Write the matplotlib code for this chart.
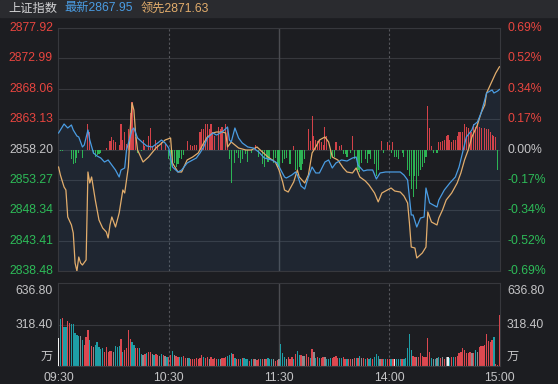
import matplotlib
matplotlib.use('Agg')
import matplotlib.pyplot as plt
from matplotlib.patches import Rectangle

plt.rcParams['font.family'] = ['Liberation Sans', 'Noto Sans CJK SC', 'DejaVu Sans']

# ---------------- data ----------------
PREV_CLOSE = 2858.20
LAST = 2867.95
LEAD_LAST = 2871.63
price_ticks = [2877.92, 2872.99, 2868.06, 2863.13, 2858.20, 2853.27, 2848.34, 2843.41, 2838.48]
pct_ticks = ['0.69%', '0.52%', '0.34%', '0.17%', '0.00%', '-0.17%', '-0.34%', '-0.52%', '-0.69%']
time_labels = ['09:30', '10:30', '11:30', '14:00', '15:00']
time_label_min = [0, 60, 120, 180, 240]
vol_ticks = [636.80, 318.40]

blue_min = [0, 2, 3, 5, 7, 8, 10, 11, 13, 14, 16, 17, 19, 21, 23, 25, 27, 29, 31, 33, 34, 36, 37, 40, 41,
            43, 46, 48, 51, 54, 56, 58, 60, 62, 65, 67, 70, 73, 75, 77, 79, 81, 84, 86, 89, 92, 93, 94, 96,
            98, 100, 103, 106, 109, 112, 116, 119, 121, 123, 124, 127, 129, 130, 132, 134, 136, 138, 140,
            142, 145, 147, 149, 151, 154, 157, 160, 162, 163, 166, 168, 171, 173, 175, 178, 180, 183, 186,
            188, 190, 192, 193, 195, 197, 199, 200, 202, 204, 206, 207, 210, 213, 216, 218, 220, 222, 225,
            226, 228, 230, 232, 233, 236, 237, 239, 240]
blue_val = [2860.88, 2861.85, 2862.34, 2861.69, 2862.18, 2861.37, 2860.39, 2860.23, 2858.61, 2858.93,
            2861.37, 2859.74, 2857.63, 2857.14, 2856.82, 2856.17, 2856.50, 2855.68, 2854.87, 2853.74,
            2854.87, 2855.20, 2858.12, 2861.37, 2861.69, 2860.07, 2859.26, 2858.77, 2858.61, 2859.26,
            2859.74, 2859.26, 2858.44, 2855.36, 2854.55, 2854.87, 2856.01, 2856.50, 2856.82, 2857.63,
            2858.61, 2860.07, 2860.88, 2860.55, 2861.04, 2861.85, 2859.74, 2859.42, 2861.69, 2860.07,
            2859.26, 2858.61, 2858.44, 2857.79, 2856.82, 2856.50, 2856.01, 2854.87, 2853.74, 2853.57,
            2854.06, 2854.55, 2854.06, 2852.28, 2851.79, 2853.74, 2855.36, 2854.39, 2854.39, 2856.17,
            2856.50, 2855.20, 2856.01, 2856.50, 2856.33, 2856.82, 2856.98, 2855.68, 2854.71, 2854.87,
            2854.87, 2853.41, 2854.39, 2854.55, 2854.55, 2854.55, 2854.55, 2854.06, 2853.25, 2847.57,
            2847.57, 2845.62, 2847.08, 2847.25, 2851.95, 2849.52, 2849.19, 2848.87, 2850.00, 2851.63,
            2852.76, 2853.74, 2855.36, 2857.79, 2860.23, 2861.37, 2862.18, 2862.66, 2864.12, 2866.23,
            2867.37, 2867.86, 2867.37, 2867.69, 2867.95]

lead_min = [0, 1, 3, 4, 5, 7, 8, 9, 10, 11, 12, 13, 15, 16, 17, 18, 20, 22, 24, 26, 27, 28, 29, 31, 33,
            35, 36, 38, 39, 40, 41, 42, 43, 46, 49, 53, 55, 58, 61, 62, 65, 67, 70, 73, 76, 79, 81, 84,
            86, 89, 91, 92, 94, 98, 102, 105, 108, 111, 114, 118, 120, 122, 123, 125, 128, 130, 131, 134,
            136, 138, 140, 142, 145, 147, 149, 152, 155, 157, 160, 162, 164, 167, 169, 172, 174, 176, 179,
            181, 183, 186, 188, 190, 191, 192, 194, 195, 198, 200, 201, 203, 206, 207, 209, 211, 214, 217,
            219, 221, 223, 225, 228, 230, 232, 233, 236, 237, 238, 240]
lead_val = [2855.36, 2854.06, 2852.11, 2851.63, 2847.25, 2845.95, 2844.65, 2839.78, 2838.48, 2840.75,
            2839.78, 2839.45, 2840.27, 2854.55, 2852.76, 2853.74, 2850.00, 2846.76, 2845.46, 2844.81,
            2843.84, 2845.95, 2847.25, 2845.62, 2847.89, 2851.63, 2851.14, 2855.36, 2861.37, 2865.75,
            2864.61, 2860.55, 2858.12, 2856.17, 2856.98, 2858.44, 2858.93, 2859.74, 2860.07, 2856.01,
            2854.55, 2854.55, 2856.50, 2856.98, 2857.63, 2859.26, 2860.23, 2860.88, 2861.04, 2861.04,
            2860.88, 2858.61, 2859.42, 2858.44, 2858.12, 2858.12, 2858.61, 2857.79, 2856.98, 2856.17,
            2854.87, 2852.93, 2851.63, 2851.30, 2852.93, 2854.87, 2853.74, 2852.76, 2854.06, 2857.63,
            2858.61, 2859.74, 2860.23, 2859.42, 2856.98, 2856.50, 2855.20, 2854.55, 2854.39, 2855.20,
            2853.74, 2853.09, 2852.44, 2851.14, 2849.70, 2851.14, 2851.63, 2851.95, 2851.46, 2851.30,
            2850.66, 2849.52, 2846.27, 2842.37, 2842.21, 2840.59, 2841.40, 2842.37, 2848.06, 2846.43,
            2845.95, 2847.08, 2848.38, 2850.00, 2851.14, 2852.76, 2854.39, 2856.50, 2858.12, 2860.23,
            2862.18, 2864.12, 2865.42, 2867.37, 2869.32, 2869.97, 2870.62, 2871.63]

# buy/sell strength bars around the previous close (index points)
bar_min = [1, 2, 4, 7, 8, 9, 10, 11, 13, 16, 17, 19, 20, 21, 22, 23, 26, 28, 29, 30, 31, 33, 34, 35, 36,
           37, 38, 39, 40, 41, 42, 43, 45, 46, 47, 49, 50, 51, 53, 54, 56, 58, 60, 61, 62, 63, 64, 65, 66,
           67, 68, 70, 72, 73, 74, 75, 77, 78, 79, 80, 81, 82, 83, 84, 85, 87, 88, 89, 91, 92, 93, 94, 96,
           97, 98, 99, 100, 102, 103, 105, 107, 109, 111, 112, 113, 114, 115, 117, 118, 119, 120, 122,
           123, 124, 126, 128, 129, 130, 131, 132, 133, 134, 136, 137, 138, 139, 140, 141, 142, 143, 144,
           145, 146, 148, 149, 150, 151, 153, 154, 155, 156, 157, 159, 160, 161, 163, 164, 165, 167, 168,
           169, 170, 172, 173, 174, 176, 177, 179, 180, 181, 182, 183, 184, 185, 187, 188, 190, 191, 192,
           193, 194, 195, 196, 197, 198, 199, 200, 201, 202, 203, 204, 206, 207, 208, 209, 210, 211, 212,
           213, 214, 215, 216, 217, 218, 219, 220, 221, 222, 223, 224, 225, 226, 227, 228, 229, 230, 232,
           233, 234, 235, 236, 237, 238, 239]
bar_val = [-0.32, -0.32, -0.16, -1.62, -2.43, -2.11, -1.30, -0.49, -1.30, 4.06, 2.76, -0.81, -1.14, -0.97,
           -0.81, -0.49, 0.32, 1.30, 1.95, 1.62, 1.14, 0.81, 4.06, 1.62, 2.76, 0.97, 3.25, 6.00, 7.63, 3.57,
           1.95, -0.49, -0.32, 1.62, 0.49, 2.11, 3.57, 0.49, 1.62, 0.81, 1.14, 0.97, -1.62, -3.57, -2.92,
           -2.11, -2.92, -2.43, -1.30, -1.62, -0.97, 1.30, 0.65, 0.49, 0.81, 0.65, 2.76, 3.25, 3.25, 4.06,
           4.06, 3.25, 4.06, 2.76, 2.11, 3.73, 3.25, 3.73, 4.06, 3.57, -1.62, -5.36, -2.11, -0.49, -1.30,
           -2.11, -1.62, -0.81, -1.95, -0.49, 0.81, -1.14, -2.43, -2.76, -1.30, -1.95, -1.62, -2.11, -1.30,
           -2.92, -2.92, -2.11, -1.62, -1.30, -2.43, 0.49, -3.25, -3.73, -2.76, -3.25, -2.43, -1.62, 3.25,
           1.30, 5.36, 2.11, 1.62, 1.30, 1.62, 1.14, 0.81, 3.73, 2.11, -1.62, -1.14, -1.14, 1.14, 0.49,
           0.81, -0.81, -0.81, -1.14, -0.49, 2.11, -1.62, -3.25, -3.73, -2.11, -1.62, -2.11, -0.81, -1.62,
           -2.43, -4.38, -3.25, 1.30, -0.49, 1.14, 0.81, -0.49, 1.14, -1.14, -1.14, -1.62, -0.49, -1.14,
           -3.25, -4.38, -6.49, -7.63, -4.38, -6.49, -4.38, -3.25, -2.76, -2.11, -1.14, 6.98, 3.57, 0.49,
           -0.49, -0.49, 1.14, 1.14, 1.30, 1.62, 2.11, 2.43, 1.62, 1.14, 1.62, 1.62, 2.11, 2.92, 2.92, 2.76,
           4.06, 3.73, 3.57, 2.92, 2.76, 4.06, 3.73, 4.38, 3.73, 3.57, 3.57, 3.25, 3.25, 2.92, 2.43, 2.11,
           1.95, -3.25]

# volume (万), one per minute 09:30..15:00
volume = [636.8, 357, 372, 300, 300, 342, 331, 321, 321, 250,
          237, 229, 229, 199, 161, 219, 275, 199, 153, 148,
          161, 184, 148, 127, 135, 110, 143, 110, 117, 117,
          110, 153, 148, 153, 204, 110, 122, 135, 280, 204,
          186, 161, 140, 135, 135, 92, 84, 92, 102, 107,
          107, 92, 84, 92, 84, 76, 92, 84, 76, 66,
          66, 84, 117, 84, 76, 71, 71, 71, 76, 59,
          59, 59, 54, 54, 54, 61, 54, 61, 87, 66,
          59, 66, 51, 66, 56, 61, 56, 56, 51, 61,
          61, 66, 76, 84, 102, 92, 59, 51, 56, 51,
          59, 64, 51, 51, 41, 51, 56, 51, 46, 51,
          56, 51, 51, 56, 64, 56, 56, 56, 41, 46,
          56, 168, 102, 71, 56, 66, 56, 66, 56, 92,
          117, 84, 84, 76, 76, 92, 71, 59, 132, 110,
          59, 71, 59, 59, 66, 66, 56, 56, 61, 59,
          66, 76, 64, 59, 59, 66, 56, 56, 56, 56,
          51, 59, 59, 59, 76, 59, 59, 56, 59, 56,
          59, 56, 66, 92, 76, 56, 51, 54, 56, 54,
          51, 54, 56, 51, 51, 51, 51, 56, 54, 59,
          135, 245, 122, 76, 66, 71, 66, 97, 76, 71,
          66, 212, 110, 59, 51, 51, 59, 66, 59, 66,
          51, 66, 66, 59, 66, 66, 66, 76, 97, 110,
          135, 122, 102, 97, 110, 102, 97, 122, 110, 143,
          153, 153, 161, 245, 194, 186, 199, 224, 13, 8, 395]
vol_kind = ("rtrttrrttt" "ttgtrrrtrg" "tttttrrrrr" "gtttrtrrrr" "ttrrttgrtr" "rgtrrgtrgt"
            "rrtgrrttrr" "gtrrrrrrrt" "rrgrrrrtgr" "rrtttrtrrt" "rtttrtrgrr" "trgrtttgrr"
            "gtttgrrrtr" "ttrggrrtrg" "trtrrgtttr" "rrrttrrtrr" "grtrtgrtrt" "trtttgrttr"
            "rtrwtttrtt" "tttrrgrrrr" "rrrtgtgtrg" "rgwtrtrrrr" "rrrrrgrtgr" "rrrrrrrtrrr")
auction_volume = 213

# ---------------- style ----------------
BG = '#1c1d21'
HEADER_BG = '#2a2b2f'
GRID = '#37383d'
RED_TXT = '#e8453f'
GREEN_TXT = '#2dbb58'
GRAY_TXT = '#c4c4c6'
BLUE = '#4a9ce2'
ORANGE = '#e2ad6c'
VCOL = {'r': '#dc4850', 't': '#1e9ea6', 'g': '#8b8b8f', 'w': '#eeeeee'}
FS = 8.8

W, H = 558, 384
fig = plt.figure(figsize=(W / 100, H / 100), dpi=100)
fig.patch.set_facecolor(BG)
fig.patches.append(Rectangle((0, 1 - 17 / H), 1, 17 / H, transform=fig.transFigure,
                             color=HEADER_BG, zorder=0))

fig.text(8 / W, 1 - 8.5 / H, '上证指数', color='#d2d2d4', fontsize=FS, va='center', ha='left')
fig.text(64 / W, 1 - 8.5 / H, '最新' + f'{LAST:.2f}', color=BLUE, fontsize=FS, va='center', ha='left')
fig.text(141 / W, 1 - 8.5 / H, '领先' + f'{LEAD_LAST:.2f}', color=ORANGE, fontsize=FS, va='center', ha='left')

XL = (-0.3, 240.3)

# ---------------- main price panel ----------------
ax = fig.add_axes([58 / W, (H - 271) / H, 442 / W, 243 / H])
ax.set_facecolor(BG)
ax.set_xlim(*XL)
ax.set_ylim(price_ticks[-1], price_ticks[0])
ax.set_xticks([])
ax.set_yticks([])
for s in ax.spines.values():
    s.set_color(GRID)
    s.set_linewidth(0.8)
for v in price_ticks:
    ax.axhline(v, color=GRID, lw=0.8, zorder=1)
ax.axvline(60, color='#55565b', lw=0.8, ls=(0, (2, 2)), zorder=1)
ax.axvline(120, color='#4b4c51', lw=1.0, zorder=1)
ax.axvline(180, color='#55565b', lw=0.8, ls=(0, (2, 2)), zorder=1)

ax.fill_between(blue_min, blue_val, price_ticks[-1], color='#3f7fbf', alpha=0.10, lw=0, zorder=1.5)

bar_colors = ['#e8474e' if v > 0 else '#2ec45a' for v in bar_val]
ax.bar(bar_min, bar_val, bottom=PREV_CLOSE, width=0.6, color=bar_colors, alpha=0.9, zorder=2)

ax.plot(lead_min, lead_val, color=ORANGE, lw=0.9, zorder=3)
ax.plot(blue_min, blue_val, color=BLUE, lw=0.9, zorder=4)

ty = ax.get_yaxis_transform()
for v, p in zip(price_ticks, pct_ticks):
    if v > PREV_CLOSE + 0.01:
        c = RED_TXT
    elif v < PREV_CLOSE - 0.01:
        c = GREEN_TXT
    else:
        c = GRAY_TXT
    ax.text(-5 / 442, v, f'{v:.2f}', transform=ty, ha='right', va='center', color=c,
            fontsize=FS, clip_on=False)
    ax.text(1 + 7 / 442, v, p, transform=ty, ha='left', va='center', color=c,
            fontsize=FS, clip_on=False)

# ---------------- volume panel ----------------
ax2 = fig.add_axes([58 / W, 18 / H, 442 / W, 83 / H])
ax2.set_facecolor(BG)
ax2.set_xlim(*XL)
ax2.set_ylim(0, vol_ticks[0])
ax2.set_xticks([])
ax2.set_yticks([])
for s in ax2.spines.values():
    s.set_color(GRID)
    s.set_linewidth(0.8)
ax2.axhline(vol_ticks[1], color=GRID, lw=0.8, zorder=1)
ax2.axvline(60, color='#55565b', lw=0.8, ls=(0, (2, 2)), zorder=1)
ax2.axvline(120, color='#4b4c51', lw=1.0, zorder=1)
ax2.axvline(180, color='#55565b', lw=0.8, ls=(0, (2, 2)), zorder=1)

ax2.bar(range(len(volume)), volume, width=0.7, color=[VCOL[k] for k in vol_kind], zorder=2)
ax2.bar([0], [auction_volume], width=-0.45, align='edge', color='#f2f2f2', zorder=3)

ty2 = ax2.get_yaxis_transform()
for side_x, ha in ((-5 / 442, 'right'), (1 + 7 / 442, 'left')):
    ax2.text(side_x, vol_ticks[0] - 8 * vol_ticks[0] / 83, f'{vol_ticks[0]:.2f}', transform=ty2,
             ha=ha, va='center', color=GRAY_TXT, fontsize=FS, clip_on=False)
    ax2.text(side_x, vol_ticks[1], f'{vol_ticks[1]:.2f}', transform=ty2,
             ha=ha, va='center', color=GRAY_TXT, fontsize=FS, clip_on=False)
ax2.text(-5 / 442, 0.11, '万', transform=ax2.transAxes, ha='right', va='center',
         color=GRAY_TXT, fontsize=FS, clip_on=False)
ax2.text(1 + 7 / 442, 0.11, '万', transform=ax2.transAxes, ha='left', va='center',
         color=GRAY_TXT, fontsize=FS, clip_on=False)

tx2 = ax2.get_xaxis_transform()
for m, lab in zip(time_label_min, time_labels):
    ax2.text(m, -12 / 83, lab, transform=tx2, ha='center', va='center', color=GRAY_TXT,
             fontsize=FS, clip_on=False)

fig.savefig('out.png', dpi=100, facecolor=BG)
